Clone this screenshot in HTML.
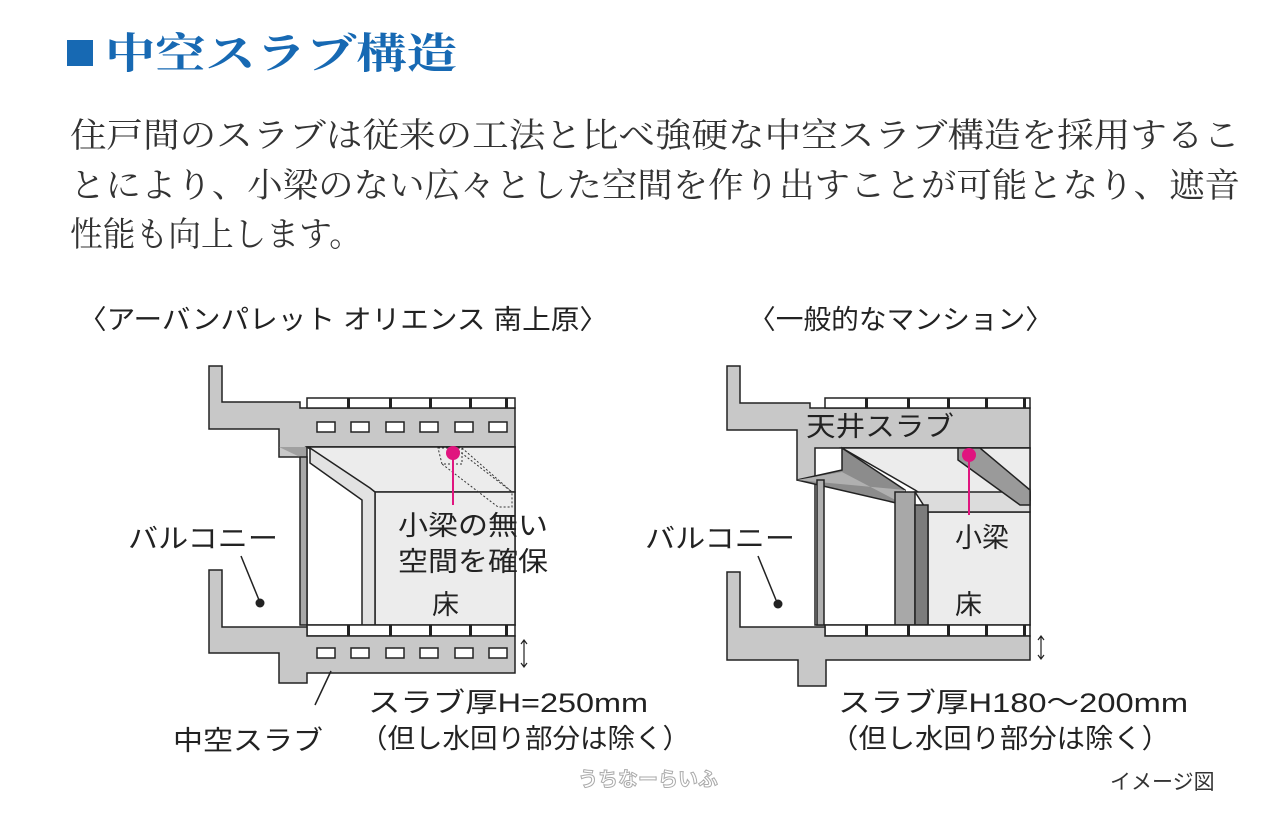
<!DOCTYPE html>
<html><head><meta charset="utf-8"><style>
html,body{margin:0;padding:0;background:#fff;}
svg{display:block}
.s{font-family:"Liberation Serif","Noto Serif CJK SC",serif;}
.g{font-family:"Liberation Sans","Noto Sans CJK JP",sans-serif;}
</style></head><body>
<svg width="1280" height="815" viewBox="0 0 1280 815" xmlns="http://www.w3.org/2000/svg">
<rect width="1280" height="815" fill="#fff"/>
<rect x="67" y="40" width="26" height="26" fill="#1769b3"/>
<text x="105" y="68" class="s" font-size="42" font-weight="bold" fill="#1769b3" textLength="352" lengthAdjust="spacingAndGlyphs">中空スラブ構造</text>
<g class="s" font-size="34" fill="#333">
<text x="70" y="147" textLength="1170" lengthAdjust="spacingAndGlyphs">住戸間のスラブは従来の工法と比べ強硬な中空スラブ構造を採用するこ</text>
<text x="70" y="197" textLength="1170" lengthAdjust="spacingAndGlyphs">とにより、小梁のない広々とした空間を作り出すことが可能となり、遮音</text>
<text x="70" y="246" textLength="292" lengthAdjust="spacingAndGlyphs">性能も向上します。</text>
</g>
<g class="g" font-size="27" fill="#222">
<text x="78" y="329" textLength="530" lengthAdjust="spacingAndGlyphs">〈アーバンパレット オリエンス 南上原〉</text>
<text x="748" y="329" textLength="305" lengthAdjust="spacingAndGlyphs">〈一般的なマンション〉</text>
<text x="128" y="548" textLength="150" lengthAdjust="spacingAndGlyphs">バルコニー</text>
<text x="645" y="548" textLength="150" lengthAdjust="spacingAndGlyphs">バルコニー</text>
<text x="173" y="750" textLength="150" lengthAdjust="spacingAndGlyphs">中空スラブ</text>
<text x="368" y="712" textLength="280" lengthAdjust="spacingAndGlyphs">スラブ厚H=250mm</text>
<text x="360" y="748" textLength="330" lengthAdjust="spacingAndGlyphs">（但し水回り部分は除く）</text>
<text x="838" y="712" textLength="350" lengthAdjust="spacingAndGlyphs">スラブ厚H180～200mm</text>
<text x="830" y="748" textLength="340" lengthAdjust="spacingAndGlyphs">（但し水回り部分は除く）</text>
</g>
<text x="1110" y="789" class="g" font-size="21" fill="#333">イメージ図</text>
<text x="578" y="786" class="g" font-size="20" font-weight="bold" fill="#fff" stroke="#aaa" stroke-width="1">うちなーらいふ</text>

<!-- LEFT DIAGRAM -->
<g stroke="#222" stroke-width="1.5">
<path d="M209 366 H222 V402 H300 V408 H515 V447 H307 V457 H279 V429 H209 Z" fill="#c8c8c8"/>
<path d="M279 447 L300 457 L307 457 L307 447 Z" fill="#a0a0a0" stroke="none"/>
<rect x="307" y="447" width="208" height="178" fill="#fff"/>
<path d="M307 447 H515 V492 H375 Z" fill="#ececec"/>
<rect x="375" y="492" width="140" height="133" fill="#ececec"/>
<path d="M310 448 L370 488 L375 492 V625 H362 V500 L310 463 Z" fill="#e2e2e2"/>
<rect x="300" y="457" width="7" height="168" fill="#a8a8a8"/>
<rect x="307" y="398" width="208" height="10" fill="#fff"/>
<rect x="307" y="625" width="208" height="11" fill="#fff"/>
<path d="M209 570 H222 V627 H307 V636 H515 V673 H307 V683 H279 V653 H209 Z" fill="#c8c8c8"/>
</g>
<g fill="#222">
<rect x="347" y="398" width="3" height="10"/><rect x="389" y="398" width="3" height="10"/><rect x="429" y="398" width="3" height="10"/><rect x="469" y="398" width="3" height="10"/><rect x="505" y="398" width="3" height="10"/>
<rect x="347" y="625" width="3" height="11"/><rect x="389" y="625" width="3" height="11"/><rect x="429" y="625" width="3" height="11"/><rect x="469" y="625" width="3" height="11"/><rect x="505" y="625" width="3" height="11"/>
</g>
<g fill="#fff" stroke="#222" stroke-width="1.5">
<rect x="317" y="422" width="18" height="10"/><rect x="351" y="422" width="18" height="10"/><rect x="386" y="422" width="18" height="10"/><rect x="420" y="422" width="18" height="10"/><rect x="455" y="422" width="18" height="10"/><rect x="489" y="422" width="18" height="10"/>
<rect x="317" y="648" width="18" height="10"/><rect x="351" y="648" width="18" height="10"/><rect x="386" y="648" width="18" height="10"/><rect x="420" y="648" width="18" height="10"/><rect x="455" y="648" width="18" height="10"/><rect x="489" y="648" width="18" height="10"/>
</g>
<g fill="none" stroke="#333" stroke-width="1" stroke-dasharray="2,2">
<path d="M438 448 H462 V464 H442 Z"/>
<path d="M462 448 L512 492 V507 L498 507 L442 464"/>
<path d="M455 448 L512 492"/>
</g>
<line x1="453" y1="453" x2="453" y2="505" stroke="#e0157f" stroke-width="2"/>
<circle cx="453" cy="453" r="7" fill="#e0157f"/>
<g class="g" font-size="27" fill="#222">
<text x="398" y="535" textLength="150" lengthAdjust="spacingAndGlyphs">小梁の無い</text>
<text x="398" y="571" textLength="150" lengthAdjust="spacingAndGlyphs">空間を確保</text>
<text x="432" y="614">床</text>
</g>
<line x1="241" y1="556" x2="259" y2="600" stroke="#222" stroke-width="1.5"/>
<circle cx="260" cy="603" r="4.5" fill="#222"/>
<line x1="331" y1="671" x2="315" y2="705" stroke="#222" stroke-width="1.5"/>
<path d="M524 640 V667 M521 644 L524 640 L527 644 M521 663 L524 667 L527 663" stroke="#222" stroke-width="1.2" fill="none"/>

<!-- RIGHT DIAGRAM -->
<g stroke="#222" stroke-width="1.5">
<path d="M727 366 H740 V403 H810 V408 H1030 V448 H842 V480 H797 V430 H727 Z" fill="#c8c8c8"/>
<rect x="815" y="448" width="215" height="177" fill="#fff"/>
<path d="M842 448 H1030 V500 H930 L915 490 Z" fill="#ececec"/>
<rect x="928" y="512" width="102" height="113" fill="#ececec"/>
<path d="M915 492 H1030 V512 H928 Z" fill="#dcdcdc"/>
<path d="M842 448 L905 490 V505 L797 480 L842 470 Z" fill="#8c8c8c"/>
<path d="M797 480 L842 472 L905 505 V490 Z" fill="#b0b0b0" stroke="none"/>
<rect x="895" y="492" width="20" height="133" fill="#a8a8a8"/>
<rect x="915" y="505" width="13" height="120" fill="#7c7c7c"/>
<path d="M958 448 H980 L1030 490 V505 L1020 505 L958 460 Z" fill="#9a9a9a"/>
<rect x="817" y="480" width="7" height="145" fill="#b0b0b0"/>
<rect x="825" y="398" width="205" height="10" fill="#fff"/>
<rect x="825" y="625" width="205" height="11" fill="#fff"/>
<path d="M727 572 H740 V627 H825 V636 H1030 V660 H826 V686 H798 V660 H727 Z" fill="#c8c8c8"/>
</g>
<g fill="#222">
<rect x="865" y="398" width="3" height="10"/><rect x="907" y="398" width="3" height="10"/><rect x="947" y="398" width="3" height="10"/><rect x="985" y="398" width="3" height="10"/><rect x="1023" y="398" width="3" height="10"/>
<rect x="865" y="625" width="3" height="11"/><rect x="907" y="625" width="3" height="11"/><rect x="947" y="625" width="3" height="11"/><rect x="985" y="625" width="3" height="11"/><rect x="1023" y="625" width="3" height="11"/>
</g>
<line x1="969" y1="455" x2="969" y2="515" stroke="#e0157f" stroke-width="2"/>
<circle cx="969" cy="455" r="7" fill="#e0157f"/>
<g class="g" font-size="27" fill="#222">
<text x="806" y="436" textLength="148" lengthAdjust="spacingAndGlyphs">天井スラブ</text>
<text x="955" y="547">小梁</text>
<text x="955" y="614">床</text>
</g>
<line x1="758" y1="556" x2="776" y2="600" stroke="#222" stroke-width="1.5"/>
<circle cx="778" cy="604" r="4.5" fill="#222"/>
<path d="M1041 636 V659 M1038 640 L1041 636 L1044 640 M1038 655 L1041 659 L1044 655" stroke="#222" stroke-width="1.2" fill="none"/>
</svg>
</body></html>
